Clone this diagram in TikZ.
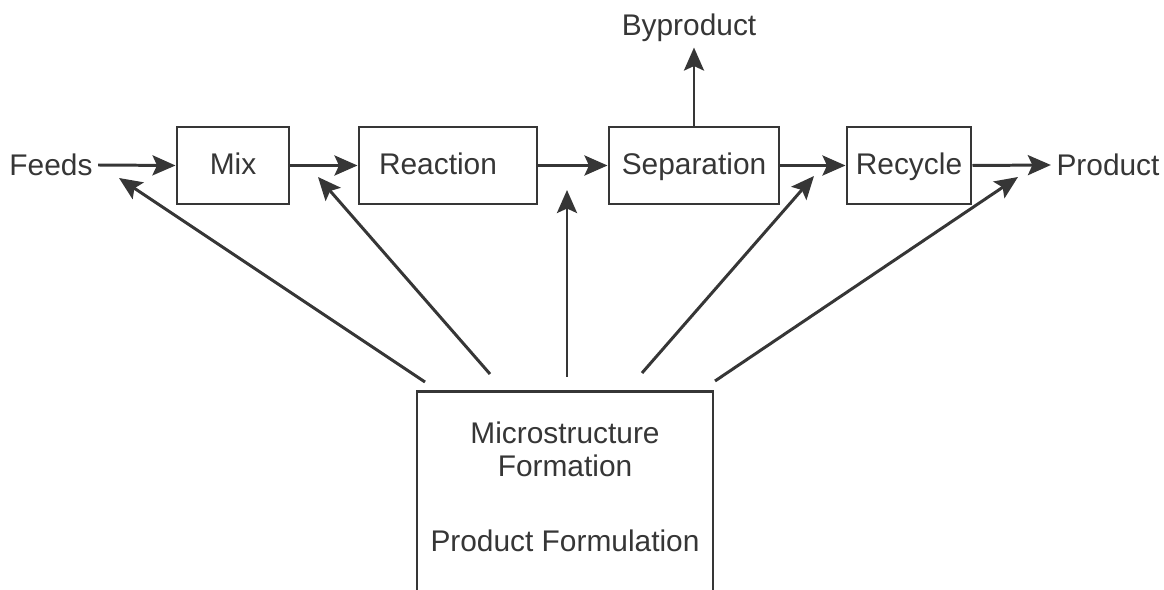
\documentclass[tikz,border=0pt]{standalone}
\usepackage{fontspec}
\setmainfont{Liberation Sans}
\usetikzlibrary{arrows.meta}
\definecolor{ink}{HTML}{363636}
\tikzset{
  unit/.style={draw=ink,line width=1.7pt,minimum height=1.54cm,inner sep=0pt,text=ink,text height=12pt,text depth=2pt},
  lbl/.style={text=ink,inner sep=3pt},
  flow/.style={draw=ink,line width=1.7pt,-{Stealth[length=0.46cm,width=0.4cm,inset=0.09cm]}}
}
\begin{document}
\begin{tikzpicture}[font=\fontsize{17}{19}\selectfont]
\useasboundingbox (0,0) rectangle (23.28,11.8);
\clip (0,0) rectangle (23.28,11.8);
\node[lbl] (feeds) at (1.02,8.5) {Feeds};
\node[unit,minimum width=2.24cm] (mix) at (4.66,8.49) {Mix};
\node[unit,minimum width=3.56cm] (reac) at (8.96,8.49) {\hspace*{-0.4cm}Reaction};
\node[unit,minimum width=3.4cm] (sep) at (13.88,8.49) {Separation};
\node[unit,minimum width=2.48cm] (rec) at (18.18,8.49) {Recycle};
\node[lbl] (prod) at (22.16,8.5) {Product};
\node[lbl] (byp) at (13.78,11.24) {Byproduct};
\node[unit,minimum width=5.92cm,minimum height=5cm,anchor=north] (micro) at (11.3,4.0) {};
\node[lbl,align=center,font=\fontsize{17}{18.8}\selectfont] (microtxt) at (11.3,2.81) {Microstructure\\Formation};
\node[lbl] (formtxt) at (11.3,0.98) {Product Formulation};
\coordinate (d1a) at (8.5,4.16);   \coordinate (d1b) at (2.38,8.24);
\coordinate (d2a) at (9.8,4.32);   \coordinate (d2b) at (6.36,8.26);
\coordinate (d3a) at (11.34,4.26); \coordinate (d3b) at (11.34,8.0);
\coordinate (d4a) at (12.84,4.34); \coordinate (d4b) at (16.28,8.28);
\coordinate (d5a) at (14.3,4.18);  \coordinate (d5b) at (20.36,8.26);
\draw[flow] (feeds.east) -- (mix.west);
\draw[flow] (mix) -- (reac);
\draw[flow] (reac) -- (sep);
\draw[flow] (sep) -- (rec);
\draw[flow] (rec.east) -- (prod.west);
\draw[flow] (sep.north) -- (sep.north |- byp.south);
\foreach \i in {1,...,5}
  \draw[flow] (d\i a) -- (d\i b);
\end{tikzpicture}
\end{document}
